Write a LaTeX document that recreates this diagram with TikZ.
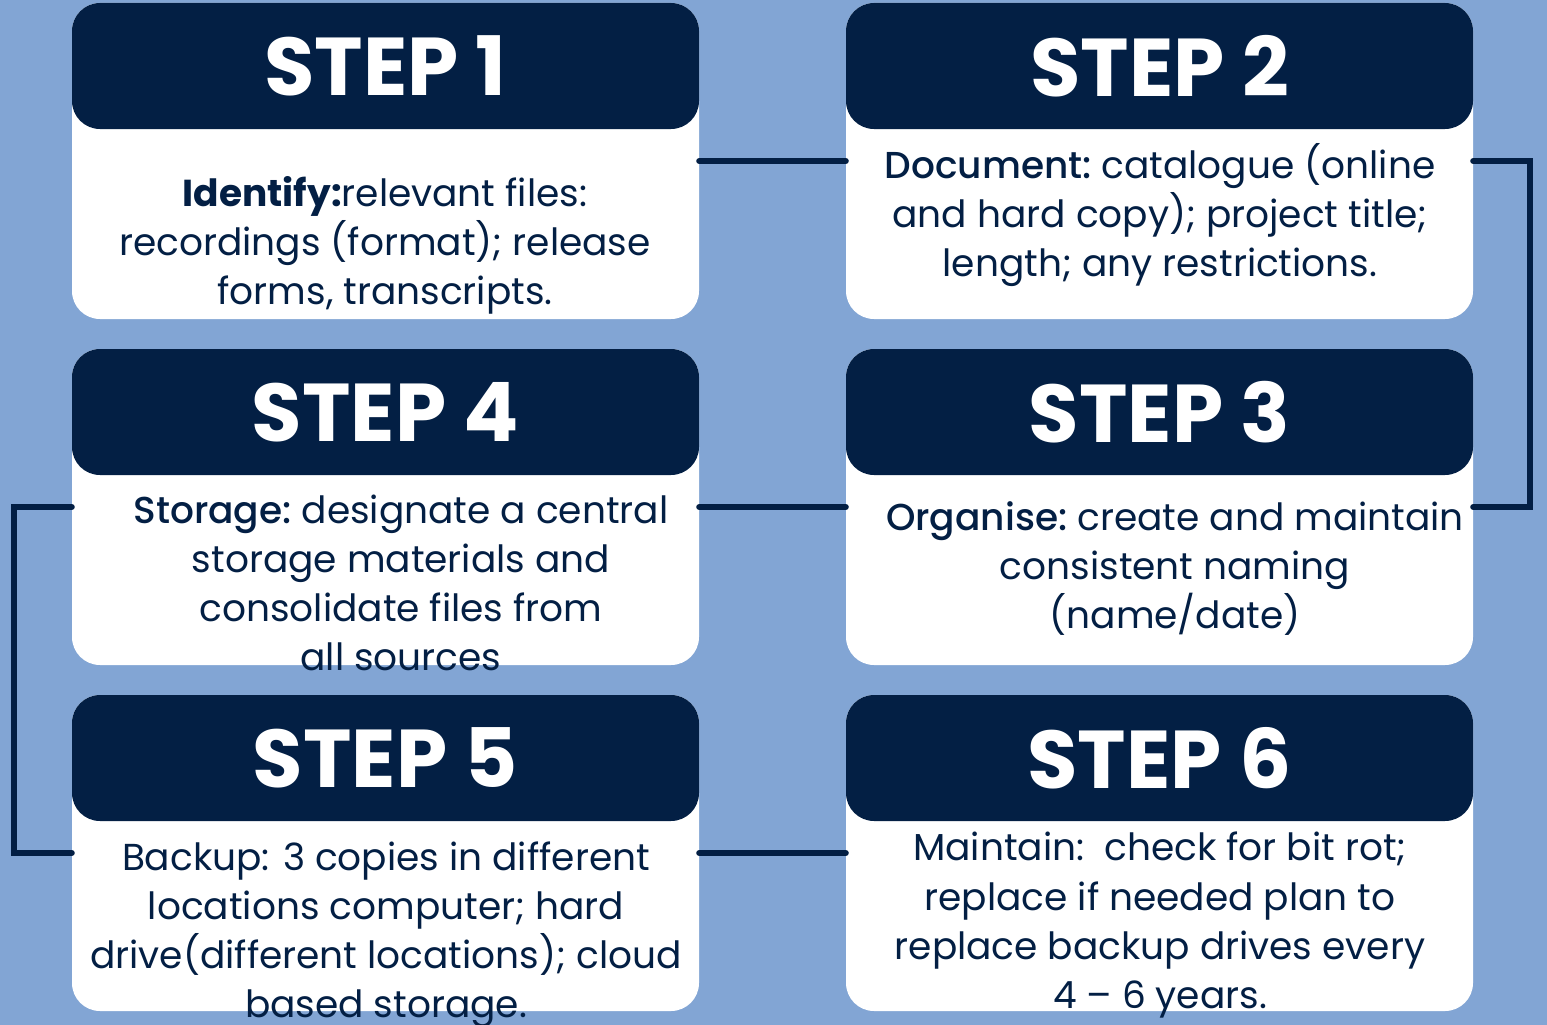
\documentclass[tikz,border=0pt]{standalone}
\usepackage{fontspec}
\setmainfont{Poppins}
\newfontfamily\medfont{Poppins Medium}
\definecolor{bg}{RGB}{130,165,212}
\definecolor{navy}{RGB}{3,31,68}
\begin{document}
\begin{tikzpicture}[x=1pt,y=-1pt,
 cardbox/.style={fill=white, rounded corners=28pt, inner sep=0pt, minimum width=627pt, minimum height=316pt},
 headbox/.style={fill=navy, rounded corners=28pt, inner sep=0pt, minimum width=627pt, minimum height=126pt, anchor=north,
   text=white, font=\fontsize{82}{82}\selectfont\bfseries},
 bodytext/.style={text=navy, align=center, inner sep=0pt, font=\fontsize{37.5}{49}\selectfont},
 link/.style={draw=navy, line width=6pt, line cap=round}]
\useasboundingbox (0,0) rectangle (1547,1025);
\fill[bg] (0,0) rectangle (1547,1025);

\node[cardbox] (card1) at (385.5,161) {};
\node[cardbox] (card2) at (1159.5,161) {};
\node[cardbox] (card4) at (385.5,507) {};
\node[cardbox] (card3) at (1159.5,507) {};
\node[cardbox] (card5) at (385.5,853) {};
\node[cardbox] (card6) at (1159.5,853) {};

\node[headbox] (head1) at (card1.north) {STEP 1};
\node[headbox] (head2) at (card2.north) {STEP 2};
\node[headbox] (head4) at (card4.north) {STEP 4};
\node[headbox] (head3) at (card3.north) {STEP 3};
\node[headbox] (head5) at (card5.north) {STEP 5};
\node[headbox] (head6) at (card6.north) {STEP 6};

\node[bodytext] (text1) at (385,245) {\textbf{Identify:}relevant files:\\recordings (format); release\\forms, transcripts.};
\node[bodytext] (text2) at (1160,215) {{\medfont Document:}~catalogue (online\\and hard copy); project title;\\length; any restrictions.};
\node[bodytext] (text4) at (401,583) {{\medfont Storage:}~designate a central\\storage materials and\\consolidate files from\\all sources};
\node[bodytext] (text3) at (1175,569) {{\medfont Organise:}~create and maintain\\consistent naming\\(name/date)};
\node[bodytext] (text5) at (386,935) {Backup: 3 copies in different\\locations computer; hard\\drive(different locations); cloud\\based storage.};
\node[bodytext] (text6) at (1160,925) {Maintain:\ \ check for bit rot;\\replace if needed plan to\\replace backup drives every\\4 – 6 years.};

\draw[link] (card1.east) -- (card2.west);
\draw[link] (card2.east) -- ++(57,0) |- (card3.east);
\draw[link] (card3.west) -- (card4.east);
\draw[link] (card4.west) -- ++(-58,0) |- (card5.west);
\draw[link] (card5.east) -- (card6.west);
\end{tikzpicture}
\end{document}
